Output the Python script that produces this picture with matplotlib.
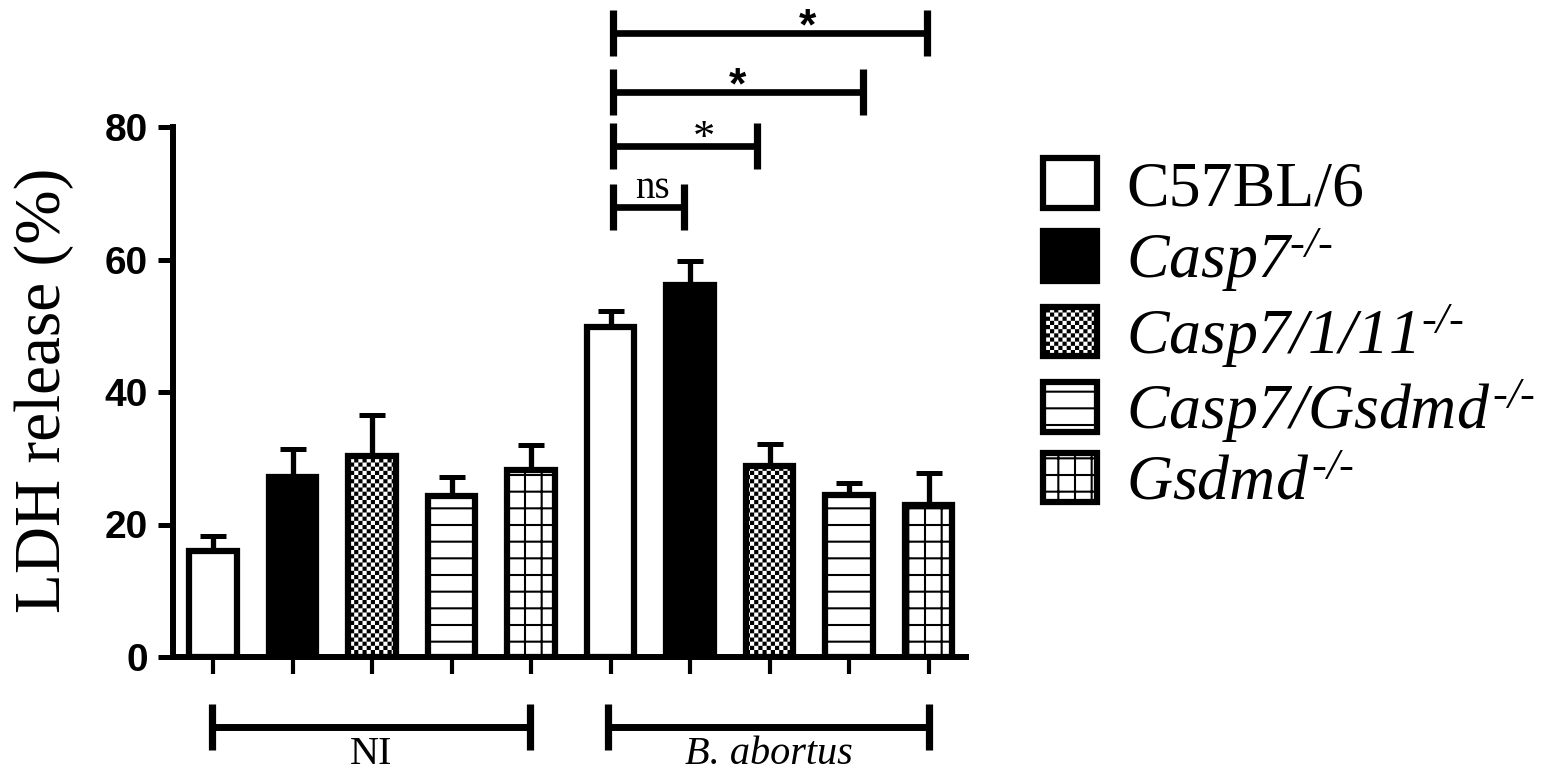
import warnings
import numpy as np
import matplotlib
matplotlib.use("Agg")
import matplotlib.pyplot as plt
import matplotlib.hatch as mhatch
from matplotlib.path import Path

warnings.filterwarnings("ignore")

## data ###################################################################
ko = "\u2010/\u2010"   # short hyphens for the -/- superscript
strains = ["C57BL/6", r"$Casp7^{%s}$" % ko, r"$Casp7/1/11^{%s}$" % ko,
           r"$Casp7/Gsdmd^{%s}$" % ko, r"$Gsdmd^{%s}$" % ko]
groups = ["NI", "B. abortus"]
ni_mean = [16.0, 27.2, 30.3, 24.3, 28.3]
ni_err = [2.2, 4.2, 6.2, 2.8, 3.7]
ba_mean = [49.8, 56.2, 28.8, 24.5, 23.0]
ba_err = [2.4, 3.5, 3.3, 1.8, 4.8]

# significance brackets (all start at the B. abortus C57BL/6 bar)
sig_left = [5.03, 5.03, 5.03, 5.03]
sig_right = [5.92, 6.84, 8.18, 8.98]
sig_y = [67.9, 77.1, 85.3, 94.2]
sig_text = ["ns", "*", "*", "*"]
sig_text_x = [5.53, 6.18, 6.60, 7.47]

yticks = [0, 20, 40, 60, 80]

## styles #################################################################
faces = ["white", "black", "white", "white", "white"]
hatches = [None, None, "c", "-", "+"]
bar_w = 0.6
lw = 4.5

## custom checkerboard hatch ('c') ########################################
plt.rcParams["hatch.linewidth"] = 1.5
# legend labels: whole math string in italic serif (digits included)
plt.rcParams["mathtext.fontset"] = "custom"
plt.rcParams["mathtext.rm"] = "Liberation Serif:italic"
plt.rcParams["mathtext.it"] = "Liberation Serif:italic"


class CheckerHatch(mhatch.HatchPatternBase):
    def __init__(self, hatch, density):
        self.n = int(hatch.count("c") * density * 4)
        self.num_vertices = (self.n * self.n // 2) * 5

    def set_vertices_and_codes(self, vertices, codes):
        n = self.n
        w = plt.rcParams["hatch.linewidth"] / 72.0
        h = max((1.0 / n - w) / 2.0, 0.002)
        idx = 0
        for j in range(n):
            for k in range(n):
                if (j + k) % 2:
                    continue
                cx, cy = (k + 0.5) / n, (j + 0.5) / n
                sq = [(cx - h, cy - h), (cx + h, cy - h), (cx + h, cy + h),
                      (cx - h, cy + h), (cx - h, cy - h)]
                vertices[idx:idx + 5] = sq
                codes[idx:idx + 5] = [Path.MOVETO, Path.LINETO, Path.LINETO,
                                      Path.LINETO, Path.CLOSEPOLY]
                idx += 5


mhatch._hatch_types.append(CheckerHatch)

## figure #################################################################
W, H, DPI = 1559, 773, 100
fig = plt.figure(figsize=(W / DPI, H / DPI), dpi=DPI)
ax = fig.add_axes([173 / W, (H - 657) / H, (966 - 173) / W, 530 / H])

x_ni = np.arange(5)
x_ba = np.arange(5) + 5

handles = []
for i in range(5):
    xs = [x_ni[i], x_ba[i]]
    ys = [ni_mean[i], ba_mean[i]]
    es = [ni_err[i], ba_err[i]]
    b = ax.bar(xs, ys, width=bar_w, facecolor=faces[i], edgecolor="black",
               linewidth=lw, hatch=hatches[i], zorder=3, label=strains[i])
    ax.errorbar(xs, ys, yerr=[[0, 0], es], fmt="none", ecolor="black",
                elinewidth=3.8, capsize=9.5, capthick=3.6, zorder=2)
    handles.append(b)

ax.set_xlim(-0.503, 9.47)
ax.set_ylim(0, 80)
ax.set_yticks(yticks)
ax.set_xticks(np.arange(10))
ax.set_xticklabels([])
for s in ["top", "right"]:
    ax.spines[s].set_visible(False)
for s in ["left", "bottom"]:
    ax.spines[s].set_linewidth(4.3)
ax.tick_params(axis="y", length=11, width=3.6, pad=7, labelsize=28)
ax.tick_params(axis="x", length=12, width=3.0)
for lab in ax.get_yticklabels():
    lab.set_fontfamily("Liberation Sans")
    lab.set_fontweight("bold")

# significance brackets
cap = 3.5
for x1, x2, y, t, tx in zip(sig_left, sig_right, sig_y, sig_text, sig_text_x):
    ax.plot([x1, x2], [y, y], color="black", lw=4.8, clip_on=False,
            solid_capstyle="butt")
    ax.plot([x1, x1], [y - cap, y + cap], color="black", lw=5.2, clip_on=False,
            solid_capstyle="butt")
    ax.plot([x2, x2], [y - cap, y + cap], color="black", lw=5.2, clip_on=False,
            solid_capstyle="butt")
    if t == "ns":
        ax.text(tx, y + 1.4, t, ha="center", va="baseline", fontsize=28,
                family="Liberation Serif")
    elif y > 80:
        ax.text(tx, y - 1.0, t, ha="center", va="baseline", fontsize=32,
                family="Liberation Sans", fontweight="bold")
    else:
        ax.text(tx, y - 0.6, t, ha="center", va="baseline", fontsize=32,
                family="Liberation Serif")

# group brackets below the axis
gy = -10.6
grp_left = [x_ni[0] - 0.01, x_ba[0] - 0.03]
grp_right = [x_ni[-1] - 0.01, x_ba[-1]]
grp_style = ["normal", "italic"]
for x1, x2, g, st in zip(grp_left, grp_right, groups, grp_style):
    ax.plot([x1, x2], [gy, gy], color="black", lw=5, clip_on=False,
            solid_capstyle="butt")
    for xx in (x1, x2):
        ax.plot([xx, xx], [gy - cap, gy + cap], color="black", lw=5.2,
                clip_on=False, solid_capstyle="butt")
    ax.text((x1 + x2) / 2, gy - 1.3, g, ha="center", va="top", fontsize=29,
            family="Liberation Serif", style=st)

fig.text(44 / W, 1 - 390 / H, "LDH release (%)", rotation=90, ha="center",
         va="center", fontsize=47, family="Liberation Serif")

leg = fig.legend(handles=handles, labels=strains, loc="upper left",
                 bbox_to_anchor=(1043 / W, 1 - 158 / H), frameon=False,
                 prop={"family": "Liberation Serif", "size": 46},
                 handlelength=0.85, handleheight=0.82, handletextpad=0.45,
                 labelspacing=0.12, borderpad=0, borderaxespad=0)

fig.savefig("out.png", dpi=DPI)
